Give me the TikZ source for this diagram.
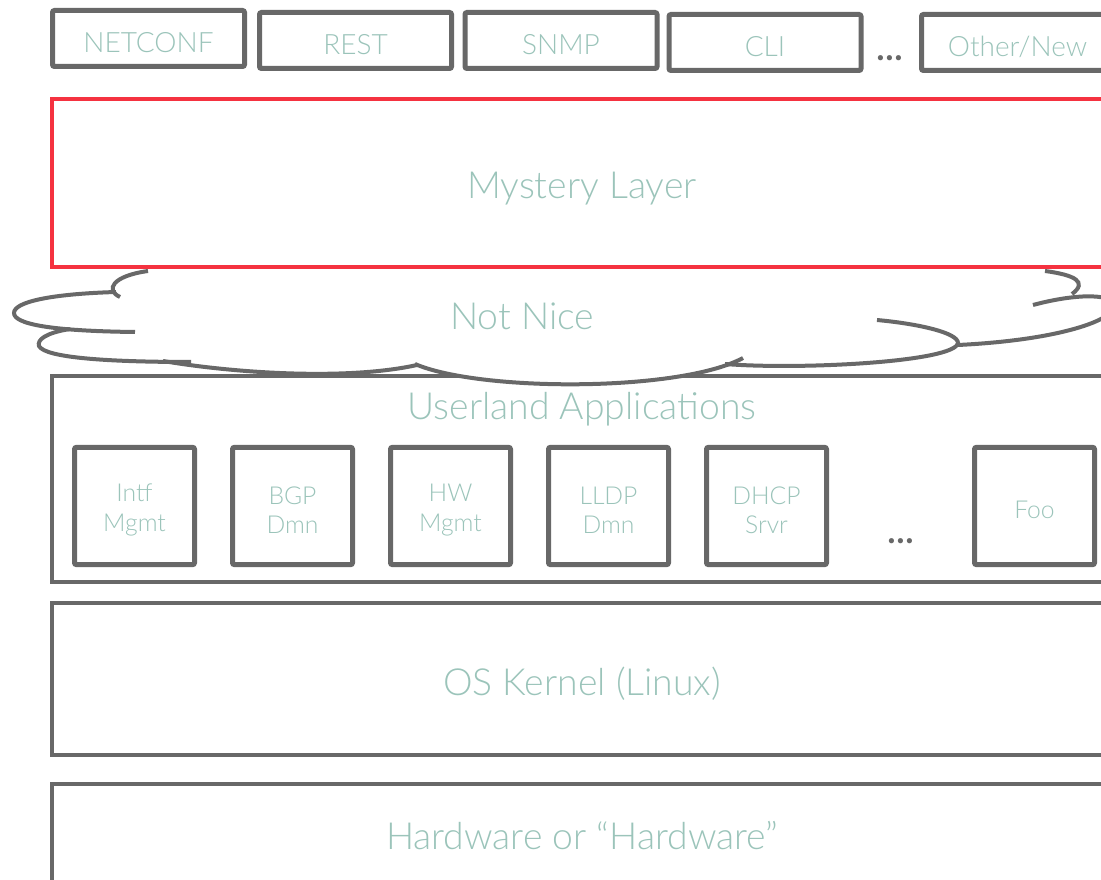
\documentclass[tikz,border=0pt]{standalone}
\usepackage{fontspec}
\setmainfont{Lato Light}
\usetikzlibrary{positioning}
\definecolor{boxgray}{RGB}{104,104,104}
\definecolor{alertred}{RGB}{245,50,64}
\definecolor{labelteal}{RGB}{155,196,186}

\tikzset{
		stack/.style={
			x=0.75pt, y=-0.75pt,
			every node/.style={text=labelteal}
		},
		proto/.style={draw=boxgray, line width=3.75pt, rounded corners=1.5pt, minimum width=144pt, minimum height=42pt, text height=21pt, text depth=0pt, font=\fontsize{21}{24}\selectfont},
		layer/.style={draw=boxgray, line width=3pt, minimum width=795pt},
		daemon/.style={draw=boxgray, line width=3.75pt, rounded corners=1.5pt, minimum width=90pt, minimum height=88pt},
		daemontext/.style={align=center, yshift=-3pt, font=\fontsize{18.5}{22}\selectfont},
		cloudline/.style={draw=boxgray, line width=3pt},
		bigtext/.style={font=\fontsize{28}{32}\selectfont},
		more/.style={text=boxgray, font=\bfseries\fontsize{28}{28}\selectfont}
	}

\begin{document}
\begin{tikzpicture}[stack]
				\path[use as bounding box, fill=white] (0,0) rectangle (1101,880);
				\clip (0,0) rectangle (1101,880);

				\node[proto] (netconf) at (148.5,38.5) {NETCONF};
				\node[proto] (rest) at (355.5,40.5) {REST};
				\node[proto] (snmp) at (561,40.5) {SNMP};
				\node[proto] (cli) at (765,42.5) {CLI};
				\node[more] (protodots) at (890,58) {...};
				\node[proto] (other) at (1017.5,42.5) {Other/New};

				\node[layer, minimum height=154.5pt] (userland) at (582,479) {};
				\node[bigtext] (userlandtext) at (582,409) {Userland Applications};
				\node[daemon, label={[daemontext]center:Intf\\Mgmt}] (intf) at (134.5,506) {};
				\node[daemon, right=24.75pt of intf, label={[daemontext]center:BGP\\Dmn}] (bgp) {};
				\node[daemon, right=24.75pt of bgp, label={[daemontext]center:HW\\Mgmt}] (hw) {};
				\node[daemon, right=24.75pt of hw, label={[daemontext]center:LLDP\\Dmn}] (lldp) {};
				\node[daemon, right=24.75pt of lldp, label={[daemontext]center:DHCP\\Srvr}] (dhcp) {};
				\node[more] (appdots) at (901,541) {...};
				\node[daemon, label={[daemontext]center:Foo}] (foo) at (1034.5,506) {};

				\fill[white] (148,271) .. controls (112,276) and (105,290) .. (116,293)
					.. controls (50,294) and (14,302) .. (14,313)
					.. controls (14,322) and (40,327) .. (70,329)
					.. controls (45,333) and (37,340) .. (39,346)
					.. controls (45,358) and (110,362) .. (163,361)
					.. controls (240,374) and (350,380) .. (417,366)
					.. controls (480,392) and (680,392) .. (743,359)
					-- (725,364) .. controls (800,370) and (955,362) .. (958,344)
					.. controls (1060,340) and (1115,320) .. (1115,305)
					-- (1115,271) -- cycle;
				\draw[cloudline] (148,271) .. controls (112,276) and (105,290) .. (120,297);
				\draw[cloudline] (116,292) .. controls (50,294) and (14,302) .. (14,313)
					.. controls (14,324) and (50,331) .. (135,332);
				\draw[cloudline] (70,329) .. controls (45,333) and (37,340) .. (39,346)
					.. controls (45,358) and (110,362) .. (191,362);
				\draw[cloudline] (163,361) .. controls (240,374) and (350,380) .. (417,365);
				\draw[cloudline] (415,364) .. controls (480,392) and (680,392) .. (743,358);
				\draw[cloudline] (877,320) .. controls (920,324) and (958,333) .. (958,343)
					.. controls (955,362) and (800,370) .. (725,364);
				\draw[cloudline] (1033,305) .. controls (1070,295) and (1110,292) .. (1115,305)
					.. controls (1115,320) and (1060,340) .. (958,345);
				\draw[cloudline] (1045,271) .. controls (1075,275) and (1088,282) .. (1072,294);
				\node[bigtext] (cloud) at (522,316) {Not Nice};

				\node[layer, draw=alertred, minimum height=126pt] (mystery) at (582,183) {};
				\node[bigtext] (mysterytext) at (582,189) {Mystery Layer};
				\node[layer, minimum height=114pt] (kernel) at (582,679) {};
				\node[bigtext] (kerneltext) at (582,684) {OS Kernel (Linux)};
				\node[layer, minimum height=99pt] (hardware) at (582,850) {};
				\node[bigtext] (hardwaretext) at (582,836) {Hardware or “Hardware”};
			\end{tikzpicture}
\end{document}
